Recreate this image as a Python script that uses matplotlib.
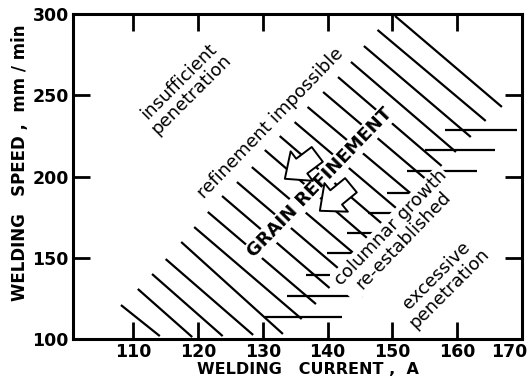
import matplotlib.pyplot as plt
import matplotlib.transforms as mtransforms

# diagonal hatch lines of the grain refinement band (current A, speed mm/min)
diag_x0 = [108.1, 110.7, 112.9, 115.0, 117.4, 119.4, 121.5, 123.7, 126.0, 128.3,
           130.3, 132.6, 134.9, 136.9, 139.3, 141.6, 143.6, 145.6, 147.7, 150.4]
diag_y0 = [120.9, 130.8, 140.0, 149.2, 159.7, 168.9, 178.2, 188.0, 196.6, 205.8,
           216.3, 224.9, 233.5, 242.8, 252.0, 261.2, 270.5, 280.3, 290.2, 298.8]
diag_x1 = [114.1, 119.1, 123.8, 128.5, 133.1, 136.0, 138.2, 140.3, 142.5, 144.7,
           146.8, 149.0, 151.1, 153.3, 155.5, 157.6, 159.8, 162.1, 164.4, 166.9]
diag_y1 = [101.8, 101.2, 101.8, 102.5, 103.1, 112.3, 121.5, 131.4, 140.6, 150.5,
           159.7, 168.9, 178.8, 188.0, 197.2, 206.5, 215.1, 224.3, 234.2, 242.8]

# horizontal hatch lines (columnar growth region)
hor_y = [228.6, 216.3, 203.4, 189.8, 177.5, 165.2, 152.9, 139.4, 126.5, 113.5]
hor_x0 = [158.1, 155.0, 152.2, 149.1, 146.2, 143.0, 139.9, 136.6, 133.7, 130.3]
hor_x1 = [169.2, 165.9, 163.0, 158.4, 149.9, 147.7, 143.7, 140.3, 145.4, 142.2]

# hollow arrows
arrow_tail = [(138.4, 213.6), (143.6, 194.6)]
arrow_head = [(133.4, 198.6), (138.8, 178.9)]

x_ticks = [110, 120, 130, 140, 150, 160, 170]
y_ticks = [100, 150, 200, 250, 300]

labels = ["insufficient\npenetration", "refinement impossible", "GRAIN REFINEMENT",
          "columnar growth\nre-established", "excessive\npenetration"]
label_x = [118.0, 131.2, 138.8, 150.7, 157.8]
label_y = [254.5, 232.9, 196.0, 164.6, 135.1]
label_rot = [45, 46, 46, 46, 45]

fig = plt.figure(figsize=(5.29, 3.79), dpi=100)
ax = fig.add_axes([73 / 529, 40 / 379, 449 / 529, 325 / 379])

for a, b, c, d in zip(diag_x0, diag_y0, diag_x1, diag_y1):
    ax.plot([a, c], [b, d], color='black', lw=1.6, solid_capstyle='butt', zorder=2)
for y, a, b in zip(hor_y, hor_x0, hor_x1):
    ax.plot([a, b], [y, y], color='black', lw=1.6, solid_capstyle='butt', zorder=2)

for t, x, y, r in zip(labels, label_x, label_y, label_rot):
    ax.text(x, y, t, rotation=r, ha='center', va='center', fontsize=13,
            linespacing=0.95, rotation_mode='anchor', zorder=3,
            fontweight='bold' if t.isupper() else 'normal',
            bbox=dict(facecolor='white', edgecolor='none', pad=1))

for tail, head in zip(arrow_tail, arrow_head):
    ax.annotate('', xy=head, xytext=tail, zorder=4,
                arrowprops=dict(arrowstyle='simple,head_length=0.8,head_width=1.4,tail_width=0.7',
                                fc='white', ec='black', lw=1.4, shrinkA=0, shrinkB=0,
                                mutation_scale=19))

ax.set_xlim(100.7, 170)
ax.set_ylim(100, 300)
ax.set_xticks(x_ticks)
ax.set_yticks(y_ticks)
ax.tick_params(direction='in', length=12, width=2, top=True, right=True,
               labelsize=12.5, pad=3)
for lab in ax.get_xticklabels() + ax.get_yticklabels():
    lab.set_fontweight('bold')
# last x label sits a little left so it stays inside the picture
last = ax.get_xticklabels()[-1]
last.set_transform(last.get_transform() + mtransforms.ScaledTranslation(-13 / 100, 0, fig.dpi_scale_trans))
for s in ax.spines.values():
    s.set_linewidth(2.2)

fig.text(308 / 529, 1 - 369 / 379, "WELDING   CURRENT ,  A", ha='center', va='center',
         fontsize=11.5, fontweight='bold')
fig.text(20 / 529, 1 - 163 / 379, "WELDING   SPEED ,  mm / min", ha='center', va='center',
         rotation=90, fontsize=12, fontweight='bold')

fig.savefig('out.png', dpi=100)
